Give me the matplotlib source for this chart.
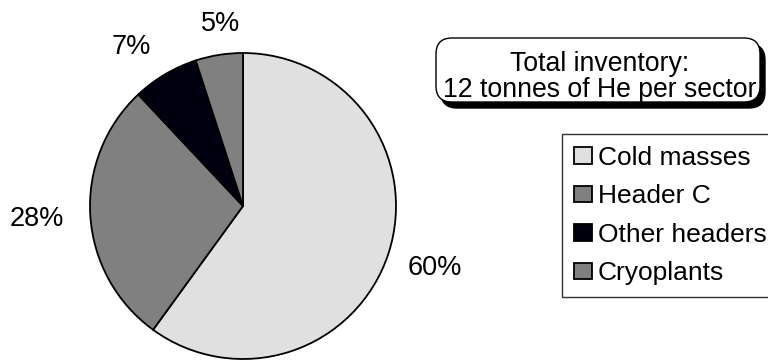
import numpy as np
import matplotlib.pyplot as plt
from matplotlib.patches import FancyBboxPatch

plt.rcParams['font.family'] = ['Liberation Sans', 'DejaVu Sans']

categorias = ["Cold masses", "Header C", "Other headers", "Cryoplants"]
valores = [60, 28, 7, 5]
colores = ["#E0E0E0", "#808080", "#000010", "#808080"]
distancias = [1.32, 1.35, 1.27, 1.20]  # distancia de las etiquetas de %
giros = [0, 0, 4.5, -2]  # ajuste angular de las etiquetas (grados)

fig = plt.figure(figsize=(7.68, 3.6), dpi=100)

# pie: centro (243, 206 desde arriba), radio 153 px
ax = fig.add_axes([(243 - 153) / 768, (154 - 153) / 360, 306 / 768, 306 / 360])
wedges, textos = ax.pie(valores, colors=colores, startangle=90, counterclock=False,
                        wedgeprops={"edgecolor": "black", "linewidth": 1.3})
total = sum(valores)
for w, v, d, g in zip(wedges, valores, distancias, giros):
    ang = np.deg2rad((w.theta1 + w.theta2) / 2 + g)
    ax.text(d * np.cos(ang), d * np.sin(ang), "%0.0f%%" % (100 * v / total),
            ha="center", va="center", fontsize=19.5)
ax.set_xlim(-1, 1)
ax.set_ylim(-1, 1)
ax.set_aspect("equal")

# caja de texto con sombra (coordenadas en pixeles)
x0, y0, ancho, alto = 436, 360 - 102, 324, 64
sombra = FancyBboxPatch((x0 + 5, y0 - 6), ancho, alto, boxstyle="round,pad=0,rounding_size=16",
                        transform=None, facecolor="black", edgecolor="black")
caja = FancyBboxPatch((x0, y0), ancho, alto, boxstyle="round,pad=0,rounding_size=16",
                      transform=None, facecolor="white", edgecolor="black", linewidth=1)
fig.patches.append(sombra)
fig.patches.append(caja)
fig.text(600 / 768, 1 - 77 / 360, "Total inventory:\n12 tonnes of He per sector",
         ha="center", va="center", fontsize=19.2, linespacing=1.0)

ley = fig.legend(wedges, categorias, loc="upper left", bbox_to_anchor=(562 / 768, 1 - 134 / 360),
                 fontsize=19, frameon=True, fancybox=False, handlelength=0.7, handleheight=0.6,
                 handletextpad=0.2, borderaxespad=0, labelspacing=0.55, borderpad=0.45)
ley.get_frame().set_edgecolor("black")
ley.get_frame().set_linewidth(1)

plt.savefig("out.png", dpi=100)
